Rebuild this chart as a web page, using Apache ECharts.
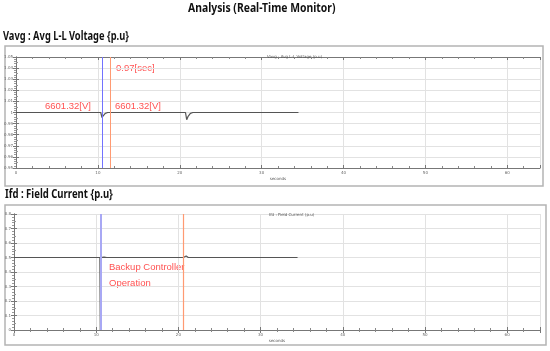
<!DOCTYPE html>
<html>
<head>
<meta charset="utf-8">
<script src="https://cdn.jsdelivr.net/npm/echarts@6/dist/echarts.min.js"></script>
<style>
  html, body { margin: 0; padding: 0; background: #fff; }
  #chart { width: 550px; height: 351px; }
</style>
</head>
<body>
<div id="chart"></div>
<script>
// voltage trace (p.u) vs seconds
const voltTime = [0, 10.35, 10.5, 10.65, 10.9, 11.2, 20.7, 20.85, 21.0, 21.3, 21.6, 34.5]
const voltValue = [1.0, 1.0, 0.9955, 0.997, 0.9992, 1.0, 1.0, 0.9935, 0.9962, 0.9992, 1.0, 1.0]

// field current trace (p.u) vs seconds
const currTime = [0, 10.45, 10.5, 10.56, 10.75, 10.95, 11.3, 20.6, 20.75, 20.95, 21.2, 34.5]
const currValue = [0.5, 0.5, 0.0, 0.5, 0.513, 0.503, 0.5, 0.5, 0.487, 0.51, 0.5, 0.5]

// cursor positions (seconds)
const voltCursors = [10.5, 11.47]
const currCursors = [10.5, 20.6]

const voltTicks = { min: 0.95, max: 1.05, interval: 0.01 }
const currTicks = { min: 0, max: 0.8, interval: 0.1 }
const timeTicks = { min: 0, max: 64, interval: 10 }

const pairs = (xs, ys) => xs.map((x, i) => [x, ys[i]])

const chart = echarts.init(document.getElementById('chart'))

const tinyLabel = { fontSize: 4, color: '#666', margin: 3 }
const redText = { fill: '#ff5252', fontSize: 9.5, fontFamily: 'Liberation Sans' }

// condensed bold heading (the original uses a narrow Korean UI font)
function heading(text, x, y, size, squeeze) {
  return {
    type: 'text', x, y, scaleX: squeeze, scaleY: 1,
    style: { text, fill: '#111', fontSize: size, fontWeight: 'bold',
      fontFamily: 'Noto Sans', verticalAlign: 'middle' }
  }
}

function xAxisFor(gridIndex) {
  return [{
    gridIndex,
    type: 'value',
    min: timeTicks.min,
    max: timeTicks.max,
    interval: timeTicks.interval,
    name: 'seconds',
    nameLocation: 'middle',
    nameGap: 9,
    nameTextStyle: { fontSize: 4, color: '#555' },
    axisLine: { lineStyle: { color: '#777' } },
    axisTick: { inside: true, length: 3, lineStyle: { color: '#777' } },
    minorTick: { show: true, splitNumber: 5, length: 2, lineStyle: { color: '#888' } },
    axisLabel: Object.assign({ showMaxLabel: false }, tinyLabel),
    splitLine: { lineStyle: { color: '#e2e2e2' } }
  }, {
    gridIndex,
    type: 'value',
    position: 'top',
    min: timeTicks.min,
    max: timeTicks.max,
    interval: timeTicks.interval,
    axisLine: { lineStyle: { color: '#777' } },
    axisTick: { inside: true, length: 3, lineStyle: { color: '#777' } },
    minorTick: { show: true, splitNumber: 5, length: 2, lineStyle: { color: '#888' } },
    axisLabel: { show: false },
    splitLine: { show: false }
  }]
}

function yAxisFor(gridIndex, ticks) {
  return [{
    gridIndex,
    type: 'value',
    min: ticks.min,
    max: ticks.max,
    interval: ticks.interval,
    axisLine: { show: true, lineStyle: { color: '#777' } },
    axisTick: { show: true, inside: true, length: 3, lineStyle: { color: '#777' } },
    minorTick: { show: true, splitNumber: 2, length: 2, lineStyle: { color: '#999' } },
    axisLabel: Object.assign({}, tinyLabel, { formatter: v => String(+v.toFixed(2)) }),
    splitLine: { lineStyle: { color: '#e2e2e2' } }
  }, {
    gridIndex,
    type: 'value',
    position: 'right',
    min: ticks.min,
    max: ticks.max,
    interval: ticks.interval,
    axisLine: { show: true, lineStyle: { color: '#777' } },
    axisTick: { show: true, inside: true, length: 3, lineStyle: { color: '#777' } },
    minorTick: { show: true, splitNumber: 5, length: 2, lineStyle: { color: '#999' } },
    axisLabel: { show: false },
    splitLine: { show: false }
  }]
}

function cursorLines(xs, colors, widths) {
  return {
    symbol: 'none',
    silent: true,
    label: { show: false },
    data: xs.map((x, i) => ({
      xAxis: x,
      lineStyle: { color: colors[i], width: widths[i], type: 'solid' }
    }))
  }
}

chart.setOption({
  animation: false,
  textStyle: { fontFamily: 'DejaVu Sans' },
  title: [
    { text: 'Vavg : Avg L-L Voltage (p.u)', left: 262, top: 50,
      textStyle: { fontSize: 4, fontWeight: 'normal', color: '#555' } },
    { text: 'Ifd : Field Current (p.u)', left: 264, top: 208,
      textStyle: { fontSize: 4, fontWeight: 'normal', color: '#555' } }
  ],
  grid: [
    { left: 16, right: 10, top: 57, height: 111 },
    { left: 14, right: 10, top: 214, height: 116 }
  ],
  xAxis: [...xAxisFor(0), ...xAxisFor(1)],
  yAxis: [...yAxisFor(0, voltTicks), ...yAxisFor(1, currTicks)],
  series: [{
    type: 'line',
    xAxisIndex: 0,
    yAxisIndex: 0,
    data: pairs(voltTime, voltValue),
    showSymbol: false,
    lineStyle: { color: '#555', width: 1.2 },
    markLine: cursorLines(voltCursors, ['#7272ff', '#ff9a72'], [1, 1])
  }, {
    type: 'line',
    xAxisIndex: 2,
    yAxisIndex: 2,
    data: pairs(currTime, currValue),
    showSymbol: false,
    lineStyle: { color: '#555', width: 1.2 },
    markLine: cursorLines(currCursors, ['#a8a8f4', '#ff9a72'], [2, 1.2])
  }],
  graphic: [
    heading('Analysis (Real-Time Monitor)', 188, 8, 12.5, 0.83),
    heading('Vavg : Avg L-L Voltage {p.u}', 3, 37, 11.5, 0.81),
    heading('Ifd : Field Current {p.u}', 5, 195, 11.5, 0.83),
    { type: 'rect', shape: { x: 5, y: 46, width: 538, height: 140 },
      style: { fill: 'none', stroke: '#b4b4b4', lineWidth: 1.5 } },
    { type: 'rect', shape: { x: 5, y: 205, width: 541, height: 140 },
      style: { fill: 'none', stroke: '#b4b4b4', lineWidth: 1.5 } },
    { type: 'text', left: 116, top: 63, style: Object.assign({ text: '0.97[sec]' }, redText) },
    { type: 'text', left: 45, top: 101, style: Object.assign({ text: '6601.32[V]' }, redText) },
    { type: 'text', left: 115, top: 101, style: Object.assign({ text: '6601.32[V]' }, redText) },
    { type: 'text', left: 109, top: 262, style: Object.assign({ text: 'Backup Controller' }, redText) },
    { type: 'text', left: 109, top: 278, style: Object.assign({ text: 'Operation' }, redText) }
  ]
})
</script>
</body>
</html>
